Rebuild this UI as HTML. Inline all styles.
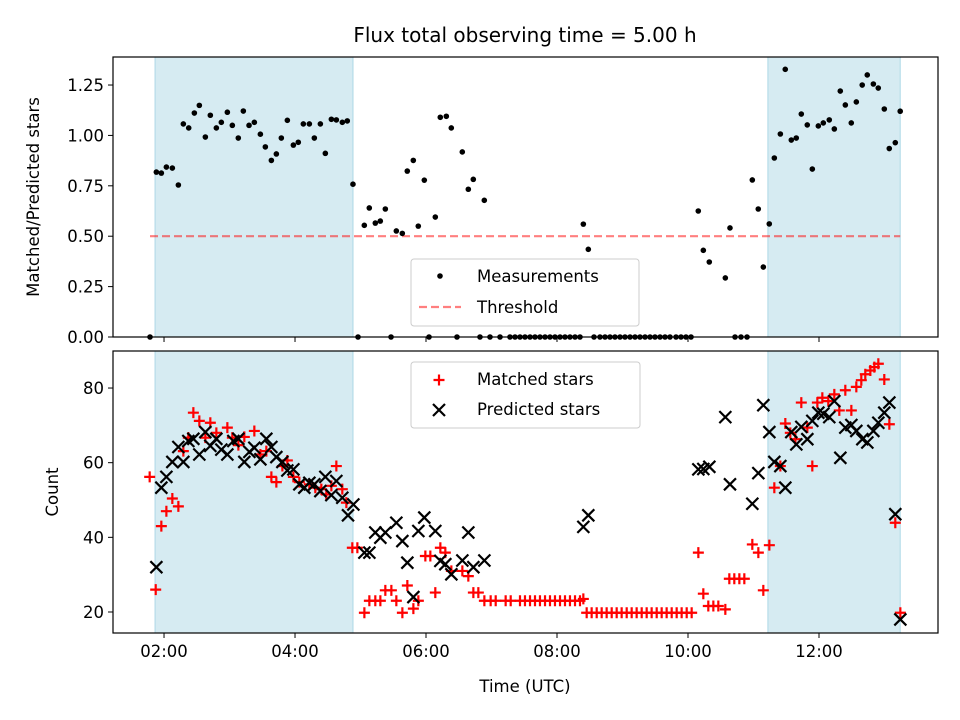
<!DOCTYPE html>
<html><head><meta charset="utf-8"><style>
html,body{margin:0;padding:0;background:#fff;}
svg{display:block;font-family:"DejaVu Sans","Liberation Sans",sans-serif;}
</style></head><body>
<svg id="chart" width="960" height="720" viewBox="0 0 960 720">
<rect width="960" height="720" fill="#fff"/>
<text x="525" y="42" font-size="20" text-anchor="middle" fill="#000">Flux total observing time = 5.00 h</text>
<g id="top"></g>
<g id="bot"></g>
</svg>
<script>
// ---- data ----
const shadeSpans = [[1.863, 4.885], [11.22, 13.24]];
const threshold = 0.5;
const ratioTimes = [1.883,1.959,2.036,2.127,2.219,2.295,2.377,2.463,2.539,2.631,2.707,2.799,2.875,2.967,3.043,3.134,3.211,3.298,3.379,3.471,3.547,3.639,3.715,3.791,3.883,3.975,4.05,4.127,4.219,4.295,4.387,4.463,4.555,4.631,4.722,4.798,4.885,5.058,5.134,5.226,5.302,5.379,5.547,5.638,5.714,5.806,5.882,5.974,6.142,6.218,6.31,6.386,6.554,6.646,6.722,6.89,8.402,8.478,10.157,10.234,10.325,10.57,10.641,10.982,11.073,11.15,11.241,11.318,11.41,11.485,11.577,11.653,11.73,11.821,11.898,11.99,12.066,12.157,12.234,12.325,12.402,12.493,12.57,12.66,12.737,12.83,12.905,12.997,13.073,13.165,13.24];
const ratioValues = [0.818,0.813,0.843,0.838,0.754,1.057,1.037,1.111,1.149,0.992,1.10,1.037,1.065,1.115,1.05,0.987,1.121,1.05,1.065,1.006,0.943,0.876,0.908,0.987,1.075,0.952,0.966,1.057,1.057,0.987,1.057,0.911,1.08,1.077,1.065,1.072,0.758,0.554,0.640,0.565,0.575,0.635,0.526,0.514,0.823,0.876,0.550,0.778,0.595,1.09,1.095,1.037,0.918,0.733,0.782,0.678,0.560,0.435,0.625,0.430,0.372,0.293,0.541,0.779,0.635,0.347,0.561,0.888,1.007,1.328,0.977,0.987,1.106,1.052,0.833,1.047,1.062,1.077,1.032,1.22,1.151,1.062,1.166,1.25,1.30,1.255,1.235,1.131,0.935,0.964,1.12];
const zeroTimes = [1.786,4.962,5.466,6.046,6.473,6.824,6.977,7.13,7.282,7.359,7.435,7.511,7.588,7.664,7.74,7.817,7.893,7.969,8.046,8.122,8.198,8.275,8.351,8.565,8.656,8.733,8.809,8.885,8.962,9.038,9.115,9.191,9.267,9.344,9.42,9.496,9.573,9.649,9.725,9.817,9.893,9.969,10.046,10.718,10.809,10.901];
const matchedTimes = [1.781,1.873,1.959,2.036,2.127,2.219,2.295,2.371,2.448,2.539,2.631,2.707,2.799,2.967,3.043,3.135,3.226,3.379,3.471,3.562,3.639,3.715,3.807,3.883,3.975,4.066,4.219,4.31,4.402,4.478,4.555,4.631,4.722,4.784,4.875,4.952,5.059,5.135,5.226,5.303,5.379,5.471,5.547,5.639,5.715,5.807,5.883,5.99,6.066,6.142,6.219,6.295,6.387,6.555,6.646,6.723,6.799,6.891,6.987,7.064,7.216,7.293,7.435,
7.511,7.588,7.664,7.74,7.817,7.893,7.969,8.046,8.122,8.198,8.275,8.351,8.402,
8.453,8.529,8.606,8.682,8.758,8.835,8.911,8.987,9.064,9.14,9.216,9.293,9.369,9.445,9.522,9.598,9.674,9.751,9.827,9.903,9.98,10.056,
10.158,10.234,10.31,10.387,10.463,10.57,10.631,10.707,10.784,10.86,10.982,11.074,11.15,11.242,11.318,11.41,11.486,11.562,11.639,11.73,11.822,11.898,11.975,12.051,12.142,12.234,12.31,12.402,12.494,12.57,12.646,12.707,12.784,12.845,12.906,12.997,13.074,13.165,13.242];
const matchedCounts = [56.2,26.0,43.0,47.0,50.4,48.3,63.1,66.7,73.4,71.2,66.7,70.7,68.0,69.4,66.7,64.7,66.9,68.5,62.2,63.1,56.2,54.8,59.1,60.6,56.2,54.8,54.2,53.3,52.9,51.5,53.8,59.1,52.9,49.3,37.2,37.2,19.8,23.0,23.0,23.0,25.8,25.8,23.0,19.8,27.1,20.9,23.0,35.0,35.0,25.2,37.2,35.9,31.0,31.0,29.6,25.2,25.2,23.0,23.0,23.0,23.0,23.0,23.0,
23,23,23,23,23,23,23,23,23,23,23,23,23.5,
19.8,19.8,19.8,19.8,19.8,19.8,19.8,19.8,19.8,19.8,19.8,19.8,19.8,19.8,19.8,19.8,19.8,19.8,19.8,19.8,19.8,19.8,
35.9,24.9,21.6,21.6,21.6,20.7,28.9,28.9,28.9,28.9,38.1,35.9,25.8,37.9,53.3,59.1,70.5,68.0,66.3,76.1,69.4,59.1,76.1,77.4,76.5,78.3,74.0,79.4,74.0,80.3,82.1,83.7,84.7,85.6,86.5,82.3,70.3,43.9,19.8];
const predictedTimes = [1.883,1.959,2.036,2.127,2.219,2.295,2.371,2.448,2.539,2.631,2.707,2.799,2.875,2.967,3.059,3.135,3.226,3.303,3.379,3.471,3.562,3.639,3.715,3.807,3.883,3.975,4.066,4.142,4.219,4.295,4.387,4.463,4.555,4.631,4.722,4.809,4.891,5.059,5.135,5.226,5.303,5.379,5.547,5.639,5.715,5.807,5.883,5.974,6.142,6.219,6.295,6.387,6.555,6.646,6.723,6.891,8.402,8.478,10.158,10.234,10.326,10.57,10.641,10.982,11.074,11.15,11.242,11.318,11.41,11.486,11.577,11.654,11.73,11.822,11.898,11.99,12.066,12.157,12.234,12.326,12.402,12.494,12.57,12.662,12.738,12.83,12.906,12.997,13.074,13.165,13.242];
const predictedCounts = [32.0,53.3,56.2,60.2,64.2,60.2,65.8,66.4,62.2,68.2,64.5,66.4,63.5,62.2,65.8,66.4,60.2,62.9,64.0,60.9,66.4,64.2,61.5,60.2,57.9,58.2,54.2,53.3,54.6,54.2,52.4,56.2,51.3,55.1,50.6,45.9,48.8,35.9,35.9,41.3,39.9,41.3,43.9,39.0,33.2,24.0,41.7,45.3,41.7,33.7,32.8,30.1,33.8,41.3,32.0,33.8,42.8,45.9,58.2,58.3,58.9,72.2,54.2,49.0,57.2,75.4,68.2,60.2,59.1,53.3,68.2,64.9,69.6,66.3,71.2,73.4,73.1,72.2,76.5,61.3,69.4,70.1,68.5,66.3,65.4,68.5,70.7,73.4,76.1,46.2,18.0];
const xTickValues = [2,4,6,8,10,12];
const xTickLabels = ["02:00","04:00","06:00","08:00","10:00","12:00"];
const ratioTicks = [0,0.25,0.5,0.75,1.0,1.25];
const ratioTickLabels = ["0.00","0.25","0.50","0.75","1.00","1.25"];
const countTicks = [20,40,60,80];
const countTickLabels = ["20","40","60","80"];

// ---- scales ----
const L=113, R=938;
const TT=57, TB=337, BT=351, BB=633;
const xMin=1.221, xMax=13.817;
const x = t => L + (t-xMin)/(xMax-xMin)*(R-L);
const yTop = v => TB - v/1.389*(TB-TT);
const yBot = c => BB - (c-14.37)/(89.92-14.37)*(BB-BT);
const NS='http://www.w3.org/2000/svg';
function mk(tag, attrs, parent){const e=document.createElementNS(NS,tag);for(const k in attrs)e.setAttribute(k,attrs[k]);parent.appendChild(e);return e;}

function panel(g, top, bot, yFn, ticks, labels, ylabel, showX, ylabelX){
  shadeSpans.forEach(s=>{
    const r=mk('rect',{x:x(s[0]),y:top,width:x(s[1])-x(s[0]),height:bot-top,fill:'#add8e6','fill-opacity':0.5,stroke:'#add8e6','stroke-width':1},g);
    
    
  });
  ticks.forEach((v,i)=>{
    const y=yFn(v);
    mk('line',{x1:L-5,x2:L,y1:y,y2:y,stroke:'#000','stroke-width':1},g);
    const t=mk('text',{x:L-9,y:y+6,'font-size':16.5,'text-anchor':'end'},g);
    t.textContent=labels[i];
    
    
  });
  xTickValues.forEach((v,i)=>{
    const xx=x(v);
    mk('line',{x1:xx,x2:xx,y1:bot,y2:bot+5,stroke:'#000','stroke-width':1},g);
    if(showX){
      const t=mk('text',{x:xx,y:bot+24,'font-size':16.5,'text-anchor':'middle'},g);
      t.textContent=xTickLabels[i];
      
      
    }
  });
  const yl=mk('text',{x:0,y:0,'font-size':16.5,'text-anchor':'middle',transform:`translate(${ylabelX},${(top+bot)/2}) rotate(-90)`},g);
  yl.textContent=ylabel;
  
  
}
function frame(g,top,bot){
  const f=mk('rect',{x:L,y:top,width:R-L,height:bot-top,fill:'none',stroke:'#000','stroke-width':1.2},g);
  
  
}
function plus(g,cx,cy){mk('path',{d:`M${cx-5.5} ${cy}H${cx+5.5}M${cx} ${cy-5.5}V${cy+5.5}`,stroke:'#ff0000','stroke-width':2.2,fill:'none'},g);}
function cross(g,cx,cy){mk('path',{d:`M${cx-6} ${cy-6}L${cx+6} ${cy+6}M${cx-6} ${cy+6}L${cx+6} ${cy-6}`,stroke:'#000','stroke-width':2.2,fill:'none'},g);}

// top panel
const gt=document.getElementById('top');
panel(gt,TT,TB,yTop,ratioTicks,ratioTickLabels,'Matched/Predicted stars',false,39);
const th=mk('line',{x1:x(1.786),x2:x(13.24),y1:yTop(threshold),y2:yTop(threshold),stroke:'#ff0000','stroke-opacity':0.5,'stroke-width':2.2,'stroke-dasharray':'8,4'},gt);


ratioTimes.forEach((t,i)=>{
  const c=mk('circle',{cx:x(t),cy:yTop(ratioValues[i]),r:2.8,fill:'#000'},gt);
  
  
});
zeroTimes.forEach(t=>{
  const c=mk('circle',{cx:x(t),cy:yTop(0),r:2.8,fill:'#000'},gt);
  
  
});
frame(gt,TT,TB);
// top legend
const lg=mk('g',{},gt);


mk('rect',{x:411,y:259,width:228,height:67,rx:3,fill:'#fff','fill-opacity':0.8,stroke:'#ccc','stroke-width':1},lg);
mk('circle',{cx:440,cy:276,r:2.8,fill:'#000'},lg);
mk('line',{x1:419,x2:461,y1:307,y2:307,stroke:'#ff0000','stroke-opacity':0.5,'stroke-width':2.2,'stroke-dasharray':'8,4'},lg);
let t1=mk('text',{x:477,y:282,'font-size':16.5},lg);t1.textContent='Measurements';


let t2=mk('text',{x:477,y:313,'font-size':16.5},lg);t2.textContent='Threshold';



// bottom panel
const gb=document.getElementById('bot');
panel(gb,BT,BB,yBot,countTicks,countTickLabels,'Count',true,58);
matchedTimes.forEach((t,i)=>{plus(gb,x(t),yBot(matchedCounts[i]));});
predictedTimes.forEach((t,i)=>{cross(gb,x(t),yBot(predictedCounts[i]));});
frame(gb,BT,BB);
const xl=mk('text',{x:525,y:692,'font-size':16.5,'text-anchor':'middle'},gb);
xl.textContent='Time (UTC)';


const lg2=mk('g',{},gb);


mk('rect',{x:411,y:362,width:229,height:66,rx:3,fill:'#fff','fill-opacity':0.8,stroke:'#ccc','stroke-width':1},lg2);
plus(lg2,439,380);cross(lg2,439,410);
let t3=mk('text',{x:477,y:385,'font-size':16.5},lg2);t3.textContent='Matched stars';


let t4=mk('text',{x:477,y:415,'font-size':16.5},lg2);t4.textContent='Predicted stars';


</script>
</body></html>
